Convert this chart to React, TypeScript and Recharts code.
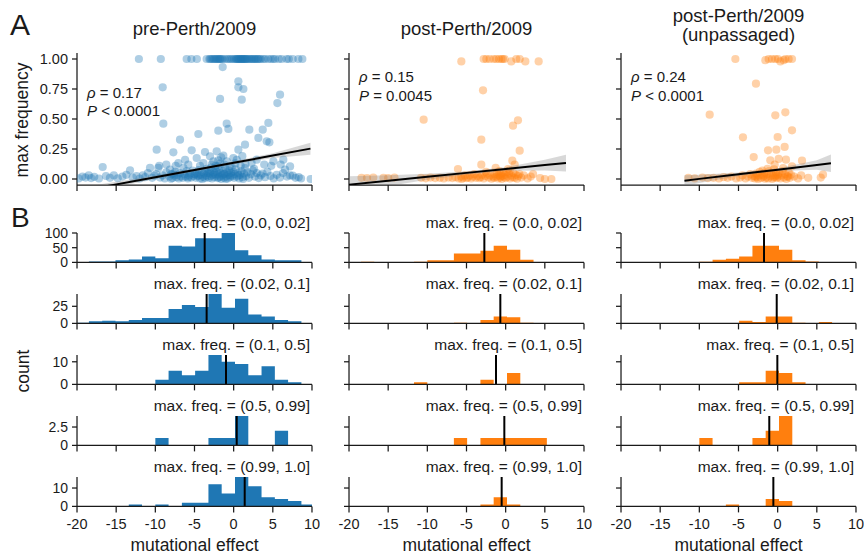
import React from "react";
import { ComposedChart, Scatter, Line, Area, XAxis, YAxis, ReferenceLine } from "recharts";

const FONT = '"Liberation Sans", Arial, Helvetica, sans-serif';
const INK = "#1a1a1a";
const BLUE = "#1f77b4";
const ORANGE = "#ff7f0e";

// ---------- data ----------
const xTicks = [-20, -15, -10, -5, 0, 5, 10];
const scatterYTicks = [0, 0.25, 0.5, 0.75, 1];
const columnTitles = [["pre-Perth/2009"], ["post-Perth/2009"], ["post-Perth/2009", "(unpassaged)"]];
const rhoLabels = ["0.17", "0.15", "0.24"];
const pLabels = ["< 0.0001", "= 0.0045", "< 0.0001"];
const freqBins = ["(0.0, 0.02]", "(0.02, 0.1]", "(0.1, 0.5]", "(0.5, 0.99]", "(0.99, 1.0]"];
const histYMax = [100, 43, 13, 4, 16];
const histYTicks = [[0, 50, 100], [0, 25], [0, 10], [0, 2.5], [0, 10]];
const binEdges = [-20.17, -18.48, -16.78, -15.09, -13.39, -11.7, -10.0, -8.31, -6.61, -4.92, -3.22, -1.53, 0.17, 1.87, 3.56, 5.26, 6.95, 8.65, 10.34];

const preCounts = [
  [0, 3, 3, 7, 10, 20, 14, 57, 54, 82, 82, 100, 41, 24, 10, 7, 7, 0],
  [1, 3, 4, 3, 5, 8, 8, 21, 27, 24, 43, 23, 36, 13, 10, 5, 3, 0],
  [0, 0, 0, 0, 0, 0, 2, 6, 4, 6, 13, 10, 9, 4, 8, 2, 1, 0],
  [0, 0, 0, 0, 0, 0, 1, 0, 0, 0, 1, 1, 4, 0, 0, 2, 0, 0],
  [0, 0, 0, 0, 1, 0, 1, 0, 2, 2, 12, 7, 16, 11, 5, 4, 3, 1],
];
const postCounts = [
  [0, 2, 0, 0, 0, 2, 7, 7, 30, 30, 40, 57, 43, 9, 0, 0, 0, 0],
  [0, 0, 0, 0, 0, 0, 0, 0, 1, 0, 5, 10, 9, 1, 0, 0, 0, 0],
  [0, 0, 0, 0, 0, 1, 0, 0, 0, 0, 2, 0, 5, 0, 0, 0, 0, 0],
  [0, 0, 0, 0, 0, 0, 0, 0, 1, 0, 1, 1, 1, 1, 1, 0, 0, 0],
  [0, 0, 0, 0, 0, 0, 0, 0, 0, 0, 1, 5, 1, 0, 0, 0, 0, 0],
];
const unpCounts = [
  [0, 0, 0, 0, 0, 0, 2, 9, 12, 20, 57, 57, 43, 7, 3, 0, 0, 0],
  [0, 0, 0, 0, 0, 0, 0, 0, 0, 4, 2, 10, 10, 1, 0, 2, 0, 0],
  [0, 0, 0, 0, 0, 0, 0, 0, 0, 1, 1, 6, 5, 1, 0, 0, 0, 0],
  [0, 0, 0, 0, 0, 0, 1, 0, 0, 0, 1, 2, 4, 0, 0, 0, 0, 0],
  [0, 0, 0, 0, 0, 0, 0, 0, 1, 0, 0, 4, 3, 0, 0, 0, 0, 0],
];
const preMedians = [-3.7, -3.45, -0.98, 0.39, 1.41];
const postMedians = [-2.72, -0.68, -1.23, -0.17, -0.51];
const unpMedians = [-1.74, -0.12, -0.04, -1.07, -0.55];

const prePoints: [number, number][] = [
  [-12.1, 1], [-9.3, 1], [-6.0, 1], [-5.4, 1], [-4.7, 1], [-3.45, 1],
  [-3.1, 1], [-2.97, 1], [-2.8, 1], [-2.62, 1], [-2.48, 1], [-2.33, 1], [-2.2, 1], [-2.06, 1], [-1.92, 1], [-1.81, 1], [-1.7, 1], [-1.58, 1],
  [-1.4, 1], [-1.12, 1], [-0.83, 1], [-0.6, 1], [-0.38, 1], [-0.17, 1], [0.06, 1],
  [0.24, 1], [0.36, 1], [0.47, 1], [0.55, 1], [0.68, 1], [0.77, 1], [0.88, 1], [0.97, 1], [1.06, 1], [1.17, 1], [1.24, 1], [1.36, 1], [1.47, 1], [1.56, 1], [1.66, 1], [1.78, 1],
  [1.96, 1], [2.12, 1], [2.27, 1], [2.38, 1], [2.56, 1], [2.71, 1], [2.83, 1], [3.02, 1], [3.14, 1], [3.31, 1], [3.47, 1],
  [3.79, 1], [4.02, 1], [4.43, 1], [4.76, 1], [5.05, 1], [5.28, 1], [5.77, 1], [6.13, 1], [6.77, 1], [7.04, 1], [7.54, 1], [8.26, 1], [8.77, 1],
  [-1.4, 0.933], [0.6, 0.814], [0.6, 0.764], [1.24, 0.75], [-9.06, 0.764], [-1.74, 0.667], [1.03, 0.661], [5.92, 0.703], [5.58, 0.633],
  [-8.98, 0.461], [-0.89, 0.461], [-0.68, 0.417], [-1.96, 0.403], [2.0, 0.411], [4.43, 0.467], [3.71, 0.411], [4.22, 0.314], [4.56, 0.306], [3.15, 0.342],
  [-4.51, 0.375], [-6.85, 0.328], [-9.83, 0.244], [-7.7, 0.222], [-5.36, 0.239], [-3.66, 0.225], [-4.72, 0.175], [-3.02, 0.189], [-2.17, 0.231], [-0.04, 0.175],
  [0.6, 0.244], [1.45, 0.286], [-1.32, 0.194], [-7.06, 0.133], [-5.79, 0.119], [-3.87, 0.133], [-2.59, 0.147], [-1.96, 0.156], [-0.89, 0.147], [2.3, 0.133],
  [2.94, 0.161], [5.07, 0.147], [6.34, 0.161], [-2.8, 0.12], [-2.3, 0.11], [-1.7, 0.13], [-1.2, 0.12], [-0.5, 0.105], [0.2, 0.13], [0.9, 0.11], [1.5, 0.125],
  [-2.0, 0.105], [-1.6, 0.18], [0.4, 0.16], [1.1, 0.19], [-9.5, 0.11], [-8.6, 0.12], [-7.4, 0.11], [3.9, 0.12], [4.8, 0.11], [6.0, 0.12], [7.2, 0.105], [-4.3, 0.11], [-6.2, 0.16],
  [-19.8, 0.005], [-19.3, 0.02], [-18.9, 0.012], [-18.5, 0.03], [-18.2, 0.008], [-17.8, 0.018], [-17.2, 0.004], [-16.72, 0.1], [-16.3, 0.025], [-15.8, 0.01],
  [-15.3, 0.03], [-14.8, 0.006], [-14.2, 0.02], [-13.7, 0.035], [-13.23, 0.072], [-12.9, 0.012], [-12.4, 0.025], [-12.0, 0.004], [-11.6, 0.03], [-11.3, 0.015],
  [-10.95, 0.05], [-10.68, 0.092], [-10.4, 0.01], [-10.1, 0.028], [-9.9, 0.04], [-9.62, 0.092], [-9.4, 0.012], [-9.1, 0.03], [-8.8, 0.005], [-8.6, 0.055],
  [-8.13, 0.078], [-8.2, 0.02], [-7.95, 0.04], [-7.8, 0.008], [-7.6, 0.03], [-7.45, 0.06], [-7.3, 0.015], [-7.15, 0.035], [-7.0, 0.005], [-6.85, 0.05],
  [-6.75, 0.02], [-7.7, 0.045], [-8.0, 0.002], [-6.42, 0.092], [-6.5, 0.01], [-6.3, 0.04], [-6.15, 0.02], [-6.0, 0.065], [-5.85, 0.005], [-5.7, 0.03],
  [-5.55, 0.045], [-5.4, 0.012], [-5.25, 0.07], [-5.1, 0.025], [-5.0, 0.04], [-5.8, 0.015], [-4.85, 0.01], [-4.7, 0.05], [-4.6, 0.025], [-4.45, 0.075],
  [-4.3, 0.005], [-4.2, 0.035], [-4.05, 0.06], [-3.9, 0.018], [-3.8, 0.045], [-3.65, 0.008], [-3.55, 0.03], [-3.45, 0.085], [-3.35, 0.02], [-3.3, 0.05],
  [-4.0, 0.0], [-4.5, 0.03], [-3.7, 0.065], [-4.9, 0.04], [-3.15, 0.01], [-3.05, 0.045], [-2.95, 0.025], [-2.85, 0.07], [-2.75, 0.005], [-2.65, 0.035],
  [-2.55, 0.055], [-2.45, 0.015], [-2.35, 0.09], [-2.25, 0.03], [-2.15, 0.06], [-2.05, 0.008], [-1.95, 0.04], [-1.85, 0.075], [-1.75, 0.02], [-1.65, 0.05],
  [-1.6, 0.0], [-2.9, 0.095], [-2.4, 0.042], [-1.9, 0.012], [-3.1, 0.065], [-1.45, 0.03], [-1.35, 0.065], [-1.25, 0.01], [-1.15, 0.045], [-1.05, 0.085],
  [-0.95, 0.02], [-0.85, 0.055], [-0.75, 0.005], [-0.65, 0.035], [-0.55, 0.07], [-0.45, 0.015], [-0.35, 0.05], [-0.25, 0.095], [-0.15, 0.025], [-0.05, 0.06],
  [0.05, 0.01], [0.12, 0.04], [-1.0, 0.0], [-0.4, 0.03], [-1.3, 0.04], [0.25, 0.08], [0.4, 0.02], [0.55, 0.05], [0.7, 0.005], [0.85, 0.035],
  [1.0, 0.065], [1.15, 0.015], [1.3, 0.045], [1.45, 0.09], [1.6, 0.025], [1.75, 0.055], [0.6, 0.03], [1.2, 0.0], [1.95, 0.01], [2.2, 0.04],
  [2.45, 0.07], [2.7, 0.02], [2.95, 0.05], [3.2, 0.008], [3.45, 0.03], [2.6, 0.085], [3.7, 0.045], [4.0, 0.015], [4.3, 0.06], [4.7, 0.025],
  [5.1, 0.005], [5.5, 0.035], [5.9, 0.012], [6.3, 0.05], [6.56, 0.078], [6.8, 0.02], [7.2, 0.03], [7.54, 0.028], [7.9, 0.01], [8.3, 0.015],
  [8.6, 0.004], [9.83, 0.0],
];

const postPoints: [number, number][] = [
  [-5.66, 0.98], [-2.81, 1], [-2.47, 1], [-2.04, 1], [-1.53, 1], [-1.19, 1], [-0.85, 1], [-0.55, 1], [-0.34, 1], [-0.13, 1],
  [0.72, 0.98], [1.36, 1], [1.79, 1], [2.51, 0.98], [4.21, 0.98],
  [-2.89, 0.739], [-10.47, 0.494], [1.57, 0.489], [0.94, 0.444], [-3.11, 0.328], [1.79, 0.236], [0.85, 0.153], [-3.11, 0.119],
  [-6.09, 0.083], [-1.28, 0.092], [0.3, 0.083], [1.15, 0.119],
  [-18.4, 0.01], [-17.7, 0.008], [-16.9, 0.012], [-15.6, 0.01], [-15.0, 0.008], [-14.2, 0.012],
  [-10.8, 0.01], [-10.2, 0.006], [-9.6, 0.012], [-9.0, 0.008], [-8.4, 0.01], [-7.9, 0.005], [-7.3, 0.012], [-6.8, 0.008],
  [-6.4, 0.015], [-6.0, 0.005], [-5.7, 0.02], [-5.4, 0.01], [-5.2, 0.03], [-5.0, 0.008], [-5.6, 0.0],
  [-4.8, 0.012], [-4.6, 0.03], [-4.4, 0.005], [-4.2, 0.02], [-4.0, 0.04], [-3.8, 0.01], [-3.6, 0.025], [-3.4, 0.008],
  [-3.2, 0.015], [-3.0, 0.035], [-2.8, 0.005], [-2.6, 0.025], [-2.4, 0.045], [-2.2, 0.012], [-2.0, 0.03], [-1.8, 0.002], [-1.6, 0.02], [-2.5, 0.06],
  [-1.5, 0.01], [-1.4, 0.04], [-1.2, 0.018], [-1.1, 0.055], [-1.0, 0.005], [-0.9, 0.03], [-0.8, 0.065], [-0.7, 0.012], [-0.6, 0.04], [-0.5, 0.0],
  [-0.4, 0.025], [-0.3, 0.05], [-0.2, 0.015], [-0.1, 0.035], [0.0, 0.008], [0.1, 0.06], [-0.65, 0.022],
  [0.25, 0.02], [0.4, 0.045], [0.55, 0.005], [0.7, 0.03], [0.85, 0.015], [1.0, 0.05], [1.15, 0.01], [1.3, 0.035], [1.45, 0.002], [1.6, 0.025],
  [1.75, 0.04], [0.5, 0.07], [2.0, 0.012], [2.3, 0.03], [2.8, 0.005], [3.2, 0.02], [3.5, 0.04], [4.4, 0.008], [5.0, 0.0], [5.83, 0.0],
];

const unpPoints: [number, number][] = [
  [-5.4, 1], [-1.57, 0.99], [-1.15, 1], [-0.72, 1], [-0.3, 1], [0.04, 1], [0.34, 0.98], [0.77, 0.99], [0.98, 1], [1.4, 1], [1.83, 1],
  [-2.77, 0.794], [-8.68, 0.536], [-0.3, 0.531], [0.98, 0.556], [1.83, 0.406], [-4.43, 0.347], [0.0, 0.35], [-1.23, 0.239],
  [-0.17, 0.244], [0.89, 0.267], [-3.06, 0.183], [-0.94, 0.156], [0.13, 0.167], [1.06, 0.161], [3.11, 0.153], [-0.38, 0.119],
  [1.83, 0.106], [5.79, 0.036],
  [-11.4, 0.01], [-10.6, 0.005], [-9.6, 0.012], [-8.9, 0.008], [-8.2, 0.01], [-7.5, 0.005], [-6.9, 0.015], [-6.4, 0.01], [-5.9, 0.02], [-5.3, 0.005],
  [-4.8, 0.012], [-4.5, 0.03], [-4.1, 0.005], [-3.8, 0.02], [-3.5, 0.04], [-3.3, 0.01],
  [-3.1, 0.025], [-2.9, 0.005], [-2.75, 0.045], [-2.6, 0.015], [-2.45, 0.03], [-2.3, 0.06], [-2.15, 0.008], [-2.0, 0.035], [-1.85, 0.018], [-1.7, 0.05],
  [-1.6, 0.002], [-2.5, 0.0], [-1.95, 0.07], [-2.85, 0.02], [-1.75, 0.028],
  [-1.45, 0.012], [-1.35, 0.04], [-1.2, 0.005], [-1.1, 0.065], [-0.95, 0.022], [-0.85, 0.048], [-0.7, 0.0], [-0.6, 0.03], [-0.45, 0.08], [-0.35, 0.015],
  [-0.2, 0.055], [-0.1, 0.008], [0.0, 0.035], [0.1, 0.02], [-0.55, 0.012], [-1.3, 0.085], [-0.25, 0.03],
  [0.25, 0.045], [0.35, 0.005], [0.5, 0.03], [0.65, 0.065], [0.8, 0.012], [0.95, 0.04], [1.1, 0.0], [1.25, 0.025], [1.4, 0.055], [1.55, 0.01],
  [1.7, 0.035], [0.7, 0.09], [1.3, 0.018], [2.1, 0.02], [2.6, 0.005], [3.0, 0.03], [3.9, 0.01], [5.5, 0.012],
];

// regression fits (x, fitted value, lower CI, upper CI)
const preRegX = [-20, -15, -10, -5, 0, 5, 9.8];
const preRegFit = [-0.105, -0.045, 0.015, 0.075, 0.135, 0.195, 0.253];
const preRegLo = [-0.135, -0.067, 0.0, 0.063, 0.123, 0.175, 0.203];
const preRegHi = [-0.075, -0.023, 0.03, 0.087, 0.147, 0.215, 0.303];
const postRegX = [-20, -15, -10, -5, 0, 5, 7.7];
const postRegFit = [-0.047, -0.014, 0.018, 0.051, 0.083, 0.116, 0.133];
const postRegLo = [-0.117, -0.059, -0.007, 0.038, 0.068, 0.071, 0.063];
const postRegHi = [0.023, 0.031, 0.043, 0.064, 0.098, 0.161, 0.203];
const unpRegX = [-11.9, -10, -5, 0, 5, 6.8];
const unpRegFit = [-0.014, 0.001, 0.04, 0.078, 0.117, 0.131];
const unpRegLo = [-0.059, -0.034, 0.025, 0.066, 0.077, 0.058];
const unpRegHi = [0.031, 0.036, 0.055, 0.09, 0.157, 0.204];

// ---------- layout ----------
const COL_LEFT = [77, 349, 621];
const PLOT_W = 235;
const SC_TOP = 53;
const SC_H = 132;
const HIST_TOP0 = 233.4;
const HIST_STEP = 61;
const HIST_H = 29.4;
const YW = 60;
const MT = 10;
const MR = 8;
const XH = 32;

const axisLineStyle = { stroke: INK, strokeWidth: 1.25 };
const tickStyle = { fontSize: 14.5, fill: INK, fontFamily: FONT };
const histTickStyle = { fontSize: 14, fill: INK, fontFamily: FONT };
const blank = () => "";

const Dot = (color: string) => (props: any) => (
  <circle cx={props.cx} cy={props.cy} r={4.1} fill={color} fillOpacity={0.36} stroke="none" />
);

function ScatterPanel({ col, points, color, regX, regFit, regLo, regHi }: any) {
  const rows = points.map((p: [number, number]) => ({ x: p[0], y: p[1] }));
  const regRows = regX.map((x: number, i: number) => ({ x, fit: regFit[i], ci: [regLo[i], regHi[i]] }));
  return (
    <div style={{ position: "absolute", left: COL_LEFT[col] - YW, top: SC_TOP - MT }}>
      <ComposedChart width={YW + PLOT_W + MR} height={MT + SC_H + XH} margin={{ top: MT, right: MR, bottom: 0, left: 0 }}>
        <XAxis type="number" dataKey="x" domain={[-20, 10]} ticks={xTicks} allowDataOverflow height={XH} interval={0}
          tickSize={6} axisLine={axisLineStyle} tickLine={axisLineStyle} tickFormatter={blank} tick={tickStyle} />
        <YAxis type="number" dataKey="y" domain={[-0.05, 1.05]} ticks={scatterYTicks} allowDataOverflow width={YW} interval={0}
          tickSize={5} tickMargin={4} axisLine={axisLineStyle} tickLine={axisLineStyle}
          tickFormatter={col === 0 ? (v: number) => v.toFixed(2) : blank} tick={tickStyle} />
        <Scatter data={rows} fill={color} shape={Dot(color)} isAnimationActive={false} />
        <Area data={regRows} dataKey="ci" type="linear" stroke="none" fill="#7f7f7f" fillOpacity={0.3} isAnimationActive={false} zIndex={700} />
        <Line data={regRows} dataKey="fit" type="linear" stroke="#000" strokeWidth={2} dot={false} isAnimationActive={false} zIndex={710} />
      </ComposedChart>
    </div>
  );
}

function HistPanel({ col, row, counts, median, color }: any) {
  const rows = binEdges.map((e, i) => ({ x: e, c: i < counts.length ? counts[i] : 0 }));
  const isBottom = row === 4;
  return (
    <div style={{ position: "absolute", left: COL_LEFT[col] - YW, top: HIST_TOP0 + row * HIST_STEP - MT }}>
      <ComposedChart width={YW + PLOT_W + MR} height={MT + HIST_H + XH} margin={{ top: MT, right: MR, bottom: 0, left: 0 }}>
        <XAxis type="number" dataKey="x" domain={[-20, 10]} ticks={xTicks} allowDataOverflow height={XH} interval={0}
          tickSize={6} tickMargin={6} axisLine={axisLineStyle} tickLine={axisLineStyle}
          tickFormatter={isBottom ? (v: number) => String(v) : blank} tick={tickStyle} />
        <YAxis type="number" dataKey="c" domain={[0, histYMax[row]]} ticks={histYTicks[row]} allowDataOverflow width={YW} interval={0}
          tickSize={5} tickMargin={4} axisLine={axisLineStyle} tickLine={axisLineStyle}
          tickFormatter={col === 0 ? (v: number) => String(v) : blank} tick={histTickStyle} />
        <Area data={rows} dataKey="c" type="stepAfter" stroke="none" fill={color} fillOpacity={1} baseValue={0} isAnimationActive={false} />
        <ReferenceLine x={median} stroke="#000" strokeWidth={2} />
      </ComposedChart>
    </div>
  );
}

const colPoints = [prePoints, postPoints, unpPoints];
const colColors = [BLUE, ORANGE, ORANGE];
const colCounts = [preCounts, postCounts, unpCounts];
const colMedians = [preMedians, postMedians, unpMedians];
const colReg = [
  [preRegX, preRegFit, preRegLo, preRegHi],
  [postRegX, postRegFit, postRegLo, postRegHi],
  [unpRegX, unpRegFit, unpRegLo, unpRegHi],
];

function Overlay() {
  const centers = COL_LEFT.map((l) => l + PLOT_W / 2);
  const statY = [[97.5, 115.5], [81.5, 100.5], [81.5, 100.5]];
  return (
    <svg width={864} height={554} style={{ position: "absolute", left: 0, top: 0, pointerEvents: "none" }}
      fontFamily={FONT} fill={INK}>
      <text x={10} y={35} fontSize={30}>A</text>
      <text x={11} y={227} fontSize={28}>B</text>
      {columnTitles.map((lines, c) =>
        lines.map((t, k) => (
          <text key={c + "-" + k} x={centers[c]} y={lines.length === 1 ? 35 : 21.5 + k * 19.5} fontSize={18.5} textAnchor="middle">{t}</text>
        ))
      )}
      {rhoLabels.map((r, c) => (
        <g key={"st" + c}>
          <text x={COL_LEFT[c] + 10} y={statY[c][0]} fontSize={15}>
            <tspan fontStyle="italic">ρ</tspan> = {r}
          </text>
          <text x={COL_LEFT[c] + 10} y={statY[c][1]} fontSize={15}>
            <tspan fontStyle="italic">P</tspan> {pLabels[c]}
          </text>
        </g>
      ))}
      <text transform="translate(28,120) rotate(-90)" fontSize={17.5} textAnchor="middle">max frequency</text>
      <text transform="translate(29,371) rotate(-90)" fontSize={17.5} textAnchor="middle">count</text>
      {[0, 1, 2].map((c) =>
        freqBins.map((f, r) => (
          <text key={"fb" + c + r} x={COL_LEFT[c] + PLOT_W - 2} y={HIST_TOP0 + r * HIST_STEP - 5.5} fontSize={15.5} textAnchor="end">
            max. freq. = {f}
          </text>
        ))
      )}
      {centers.map((cx, c) => (
        <text key={"xl" + c} x={cx} y={551} fontSize={17.5} textAnchor="middle">mutational effect</text>
      ))}
    </svg>
  );
}

export default function App() {
  return (
    <div style={{ position: "absolute", left: 0, top: 0, width: 864, height: 554, background: "#fff", fontFamily: FONT }}>
      {[0, 1, 2].map((c) => (
        <ScatterPanel key={"sc" + c} col={c} points={colPoints[c]} color={colColors[c]}
          regX={colReg[c][0]} regFit={colReg[c][1]} regLo={colReg[c][2]} regHi={colReg[c][3]} />
      ))}
      {[0, 1, 2].map((c) =>
        [0, 1, 2, 3, 4].map((r) => (
          <HistPanel key={"h" + c + r} col={c} row={r} counts={colCounts[c][r]} median={colMedians[c][r]} color={colColors[c]} />
        ))
      )}
      <Overlay />
    </div>
  );
}
